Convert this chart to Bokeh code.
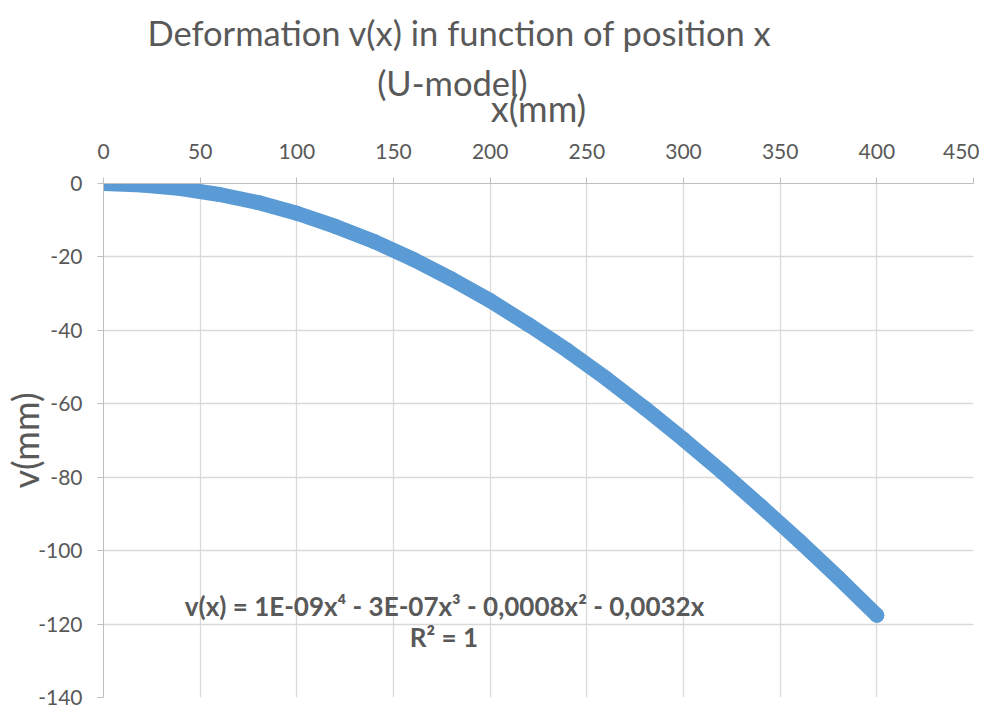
from bokeh.plotting import figure
from bokeh.models import FixedTicker, Range1d, Title, Label
from bokeh.embed import file_html
from bokeh.resources import INLINE

# ---- data ----
x_mm = [0, 20, 40, 60, 80, 100, 120, 140, 160, 180, 200, 220, 240, 260, 280, 300,
        320, 340, 360, 380, 400]
v_mm = [0, -0.4, -1.4, -3.0, -5.2, -8.1, -11.7, -15.8, -20.6, -26.0, -31.9, -38.5,
        -45.5, -53.1, -61.2, -69.7, -78.6, -87.9, -97.4, -107.3, -117.6]
x_ticks = [0, 50, 100, 150, 200, 250, 300, 350, 400, 450]
y_ticks = [0, -20, -40, -60, -80, -100, -120, -140]

title_line1 = "Deformation v(x) in function of position x"
title_line2 = "(U-model)"
x_label = "x(mm)"
y_label = "v(mm)"
equation = "v(x) = 1E-09x\u2074 - 3E-07x\u00b3 - 0,0008x\u00b2 - 0,0032x"
r_squared = "R\u00b2 = 1"

TEXT = "#595959"
GRID = "#d9d9d9"
AXIS = "#bfbfbf"
BLUE = "#5b9bd5"
FONT = "Lato"

p = figure(width=979, height=708, output_backend="svg", toolbar_location=None,
           x_axis_location="above",
           x_range=Range1d(0, 450), y_range=Range1d(-140, 0),
           min_border_left=103, min_border_right=6, min_border_top=183, min_border_bottom=11)
p.outline_line_color = None
p.background_fill_color = "white"
p.border_fill_color = "white"

for ax in (p.xaxis[0], p.yaxis[0]):
    ax.axis_line_color = AXIS
    ax.major_tick_line_color = AXIS
    ax.minor_tick_line_color = None
    ax.major_tick_in = 0
    ax.major_tick_out = 6
    ax.major_label_text_font = FONT
    ax.major_label_text_font_size = "21px"
    ax.major_label_text_color = TEXT
    ax.axis_label_text_font = FONT
    ax.axis_label_text_font_size = "36px"
    ax.axis_label_text_font_style = "normal"
    ax.axis_label_text_color = TEXT

p.xaxis[0].ticker = FixedTicker(ticks=x_ticks)
p.yaxis[0].ticker = FixedTicker(ticks=y_ticks)
p.xaxis[0].major_label_overrides = {t: str(t) for t in x_ticks}
p.yaxis[0].major_label_overrides = {t: str(t) for t in y_ticks}
p.xaxis[0].major_label_standoff = 19
p.yaxis[0].major_label_standoff = 15
p.xaxis[0].axis_label = x_label
p.yaxis[0].axis_label = y_label
p.xaxis[0].axis_label_standoff = 11
p.yaxis[0].axis_label_standoff = -12

p.xgrid[0].ticker = FixedTicker(ticks=x_ticks)
p.ygrid[0].ticker = FixedTicker(ticks=y_ticks)
p.xgrid.grid_line_color = GRID
p.ygrid.grid_line_color = GRID
p.xgrid.grid_line_width = 1.3
p.ygrid.grid_line_width = 1.3

p.line(x_mm, v_mm, line_color=BLUE, line_width=15, line_cap="round", line_join="round")
p.scatter(x_mm, v_mm, size=15, fill_color=BLUE, line_color=None)

# two-line chart title; the second line is centred under the first one
pad = "\u00a0" * 26
p.add_layout(Title(text=title_line1 + "\n" + pad + title_line2, align="left", offset=44,
                   standoff=-41, text_font=FONT, text_font_size="34.5px",
                   text_font_style="normal", text_line_height=1.208,
                   text_color=TEXT), "above")

for txt, x, y in ((equation, 176.4, -115.1), (r_squared, 176.1, -123.5)):
    p.add_layout(Label(x=x, y=y, text=txt, text_font=FONT, text_font_size="26px",
                       text_font_style="bold", text_color=TEXT,
                       text_align="center", text_baseline="alphabetic"))

open("out.html", "w").write(file_html(p, INLINE))
